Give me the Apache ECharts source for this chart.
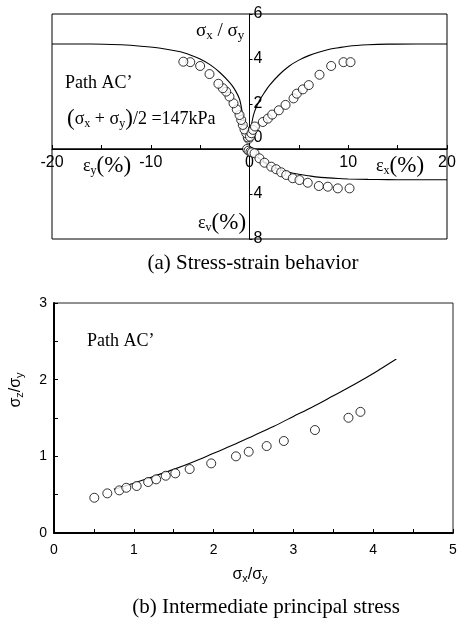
<!DOCTYPE html>
<html>
<head>
<meta charset="utf-8">
<script src="https://cdn.jsdelivr.net/npm/echarts@6/dist/echarts.min.js"></script>
<style>
  html, body { margin: 0; padding: 0; background: #fff; }
  #chart { width: 457px; height: 620px; }
</style>
</head>
<body>
<div id="chart"></div>
<script>
// ---- (a) Stress-strain behaviour, path AC' ----
// model curve, lateral strain side (eps_y, sigma_x/sigma_y)
const modelLeftStrain = [-20, -16, -13, -11, -9, -7, -6, -5, -4, -3, -2, -1.5, -1, -0.7, -0.5, -0.3, 0];
const modelLeftRatio  = [4.67, 4.67, 4.63, 4.57, 4.48, 4.32, 4.18, 4.0, 3.75, 3.4, 2.95, 2.65, 2.2, 1.55, 1.15, 0.8, 0.5];
// model curve, major strain side (eps_x, sigma_x/sigma_y)
const modelRightStrain = [0, 0.25, 0.5, 1, 1.5, 2, 3, 4, 5, 6, 7, 8, 9, 10, 12, 14, 17, 20];
const modelRightRatio  = [0.5, 1.2, 1.65, 2.15, 2.5, 2.82, 3.3, 3.68, 3.95, 4.15, 4.3, 4.42, 4.5, 4.57, 4.63, 4.66, 4.67, 4.67];
// model curve, volumetric strain (eps_x, eps_v)
const modelVolStrainX = [0, 0.5, 1, 1.5, 2, 3, 4, 5, 6, 7, 8, 9, 10, 12, 14, 16, 20];
const modelVolStrainV = [0, 0.4, 0.85, 1.18, 1.42, 1.8, 2.07, 2.25, 2.38, 2.5, 2.57, 2.62, 2.66, 2.7, 2.72, 2.73, 2.73];

// measured, lateral strain side
const testLeftStrain = [-0.1, -0.17, -0.33, -0.51, -0.68, -0.84, -1.01, -1.29, -1.62, -2.03, -2.36, -2.7, -3.15, -4.05, -5.0, -6.0, -6.7];
const testLeftRatio  = [0.45, 0.52, 0.70, 0.87, 1.07, 1.29, 1.51, 1.76, 2.03, 2.33, 2.55, 2.7, 2.9, 3.33, 3.69, 3.86, 3.88];
// measured, major strain side
const testRightStrain = [0.05, 0.2, 0.35, 0.55, 1.35, 1.86, 2.3, 2.97, 3.65, 4.46, 4.79, 5.4, 6.0, 7.09, 8.27, 9.52, 10.23];
const testRightRatio  = [0.55, 0.7, 0.85, 1.0, 1.2, 1.35, 1.53, 1.72, 1.96, 2.25, 2.46, 2.65, 2.84, 3.3, 3.69, 3.86, 3.86];
// measured volumetric strain
const testVolStrainX = [-0.25, -0.1, 0.1, 0.25, 0.51, 1.01, 1.52, 2.2, 2.7, 3.21, 3.72, 4.38, 5.06, 5.9, 7.02, 7.93, 8.94, 10.13];
const testVolStrainV = [0.0, 0.15, 0.25, 0.3, 0.38, 0.83, 1.22, 1.57, 1.8, 2.07, 2.31, 2.6, 2.76, 3.0, 3.29, 3.35, 3.5, 3.5];

// ---- (b) Intermediate principal stress ----
const modelSxSy = [0.75, 1.0, 1.25, 1.5, 1.75, 2.0, 2.25, 2.5, 2.75, 3.0, 3.25, 3.5, 3.75, 4.0, 4.29];
const modelSzSy = [0.57, 0.65, 0.74, 0.83, 0.93, 1.04, 1.15, 1.27, 1.39, 1.52, 1.65, 1.79, 1.93, 2.08, 2.27];
const testSxSy = [0.505, 0.668, 0.818, 0.906, 1.036, 1.18, 1.28, 1.40, 1.52, 1.70, 1.97, 2.28, 2.44, 2.665, 2.88, 3.27, 3.69, 3.84];
const testSzSy = [0.46, 0.517, 0.556, 0.59, 0.613, 0.665, 0.70, 0.747, 0.778, 0.834, 0.908, 1.0, 1.06, 1.134, 1.20, 1.343, 1.503, 1.58];

// axis ticks
const strainTicks = [-20, -10, 0, 10, 20];
const ratioTicksB = [0, 1, 2, 3, 4, 5];

const SERIF = "'Liberation Serif', 'Times New Roman', serif";
const SANS = "'Liberation Sans', Arial, sans-serif";

const pairs = (xs, ys) => xs.map((x, i) => [x, ys[i]]);

const lineStyle = { color: '#000', width: 1.1 };
const markerStyle = { color: '#fff', borderColor: '#000', borderWidth: 1 };

function modelLine(xi, yi, xs, ys) {
  return {
    type: 'line', xAxisIndex: xi, yAxisIndex: yi, data: pairs(xs, ys),
    symbol: 'none', smooth: 0.3, lineStyle: lineStyle, z: 2, silent: true
  };
}
function testPoints(xi, yi, xs, ys, size) {
  return {
    type: 'scatter', xAxisIndex: xi, yAxisIndex: yi, data: pairs(xs, ys),
    symbol: 'circle', symbolSize: size, itemStyle: markerStyle, clip: false, z: 3
  };
}

// text helpers
function txt(x, y, text, rich, extra) {
  return {
    type: 'text', x: x, y: y, silent: true,
    style: Object.assign({ text: text, rich: rich, fill: '#000', align: 'left', verticalAlign: 'middle' }, extra || {})
  };
}
const serifRich = (size, sub) => ({
  g: { fontFamily: SERIF, fontSize: size, fill: '#000' },
  s: { fontFamily: SERIF, fontSize: sub, fill: '#000', padding: [9, 0, 0, 0] },
  p: { fontFamily: SERIF, fontSize: size + 5, fill: '#000' }
});
const sansRich = (size, sub) => ({
  g: { fontFamily: SANS, fontSize: size, fill: '#000' },
  s: { fontFamily: SANS, fontSize: sub, fill: '#000', padding: [8, 0, 0, 0] }
});

const chart = echarts.init(document.getElementById('chart'), null, { renderer: 'canvas' });

const axisLabelA = { color: '#000', fontFamily: SANS, fontSize: 16 };
const axisLabelB = { color: '#000', fontFamily: SANS, fontSize: 14 };

// grid (a) spans x 52..447; the strain origin sits in the middle
const gridA = { left: 52, width: 395 };
const centreOffset = -gridA.width / 2;

chart.setOption({
  animation: false,
  backgroundColor: '#fff',
  grid: [
    { left: gridA.left, top: 14, width: gridA.width, height: 135, show: true, borderColor: '#000', borderWidth: 1, containLabel: false, outerBoundsMode: 'none' },
    { left: gridA.left, top: 149, width: gridA.width, height: 90, show: true, borderColor: '#000', borderWidth: 1, containLabel: false, outerBoundsMode: 'none' },
    { left: 54, top: 303, width: 399, height: 230, show: true, borderColor: '#222', borderWidth: 1, containLabel: false, outerBoundsMode: 'none' }
  ],
  xAxis: [
    {
      gridIndex: 0, type: 'value', min: -20, max: 20, interval: 5,
      axisLine: { onZero: false, lineStyle: { color: '#000', width: 1 } },
      axisTick: { inside: true, length: 4, lineStyle: { color: '#000' } },
      axisLabel: Object.assign({ margin: 6, formatter: v => strainTicks.includes(v) ? String(v) : '' }, axisLabelA),
      splitLine: { show: false }
    },
    { gridIndex: 1, type: 'value', min: -20, max: 20, show: false },
    {
      gridIndex: 2, type: 'value', min: 0, max: 5, interval: 0.5,
      axisLine: { onZero: false, lineStyle: { color: '#000', width: 2 } },
      axisTick: { inside: true, length: 4, lineStyle: { color: '#000' } },
      axisLabel: Object.assign({ margin: 10, formatter: v => ratioTicksB.includes(v) ? String(v) : '' }, axisLabelB),
      splitLine: { show: false }
    }
  ],
  yAxis: [
    {
      gridIndex: 0, type: 'value', min: 0, max: 6, interval: 2, position: 'right', offset: centreOffset,
      axisLine: { onZero: false, lineStyle: { color: '#000', width: 1 } },
      axisTick: { length: 3, lineStyle: { color: '#000' } },
      axisLabel: Object.assign({
        margin: 4,
        formatter: v => v === 0 ? '{z|0}' : String(v),
        rich: { z: { fontFamily: SANS, fontSize: 16, color: '#000', padding: [0, 0, 22, 0] } }
      }, axisLabelA),
      splitLine: { show: false }
    },
    {
      gridIndex: 1, type: 'value', min: 0, max: 8, interval: 4, inverse: true, position: 'right', offset: centreOffset,
      axisLine: { onZero: false, lineStyle: { color: '#000', width: 1 } },
      axisTick: { length: 3, lineStyle: { color: '#000' } },
      axisLabel: Object.assign({ margin: 4, showMinLabel: false }, axisLabelA),
      splitLine: { show: false }
    },
    {
      gridIndex: 2, type: 'value', min: 0, max: 3, interval: 0.5,
      axisLine: { onZero: false, lineStyle: { color: '#000', width: 2 } },
      axisTick: { inside: true, length: 4, lineStyle: { color: '#000' } },
      axisLabel: Object.assign({ margin: 7, formatter: v => Number.isInteger(v) ? String(v) : '' }, axisLabelB),
      splitLine: { show: false }
    }
  ],
  series: [
    modelLine(0, 0, modelLeftStrain, modelLeftRatio),
    modelLine(0, 0, modelRightStrain, modelRightRatio),
    modelLine(1, 1, modelVolStrainX, modelVolStrainV),
    testPoints(0, 0, testLeftStrain, testLeftRatio, 9),
    testPoints(0, 0, testRightStrain, testRightRatio, 9),
    testPoints(1, 1, testVolStrainX, testVolStrainV, 9),
    modelLine(2, 2, modelSxSy, modelSzSy),
    testPoints(2, 2, testSxSy, testSzSy, 9)
  ],
  graphic: [
    // (a) annotations
    txt(196, 31, '{g|σ}{s|x}{g| / σ}{s|y}', serifRich(19, 13)),
    txt(65, 83, "{g|Path AC’}", serifRich(18, 13)),
    txt(67, 119, '{p|(}{g|σ}{s|x}{g| + σ}{s|y}{p|)}{g|/2 =147kPa}', serifRich(18, 12)),
    txt(83, 166, '{g|ε}{s|y}{p|(%)}', serifRich(18, 12)),
    txt(376, 166, '{g|ε}{s|x}{p|(%)}', serifRich(18, 12)),
    txt(198, 223, '{g|ε}{s|v}{p|(%)}', serifRich(18, 12)),
    txt(253, 263, '{g|(a) Stress-strain behavior}', serifRich(21, 14), { align: 'center' }),
    // (b) annotations
    txt(87, 341, "{g|Path AC’}", serifRich(18, 13)),
    txt(250, 575, '{g|σ}{s|x}{g|/σ}{s|y}', sansRich(16, 11), { align: 'center' }),
    Object.assign(txt(16, 390, '{g|σ}{s|z}{g|/σ}{s|y}', sansRich(16, 11), { align: 'center' }), { rotation: Math.PI / 2 }),
    txt(266, 607, '{g|(b) Intermediate principal stress}', serifRich(21, 14), { align: 'center' })
  ]
});
</script>
</body>
</html>
